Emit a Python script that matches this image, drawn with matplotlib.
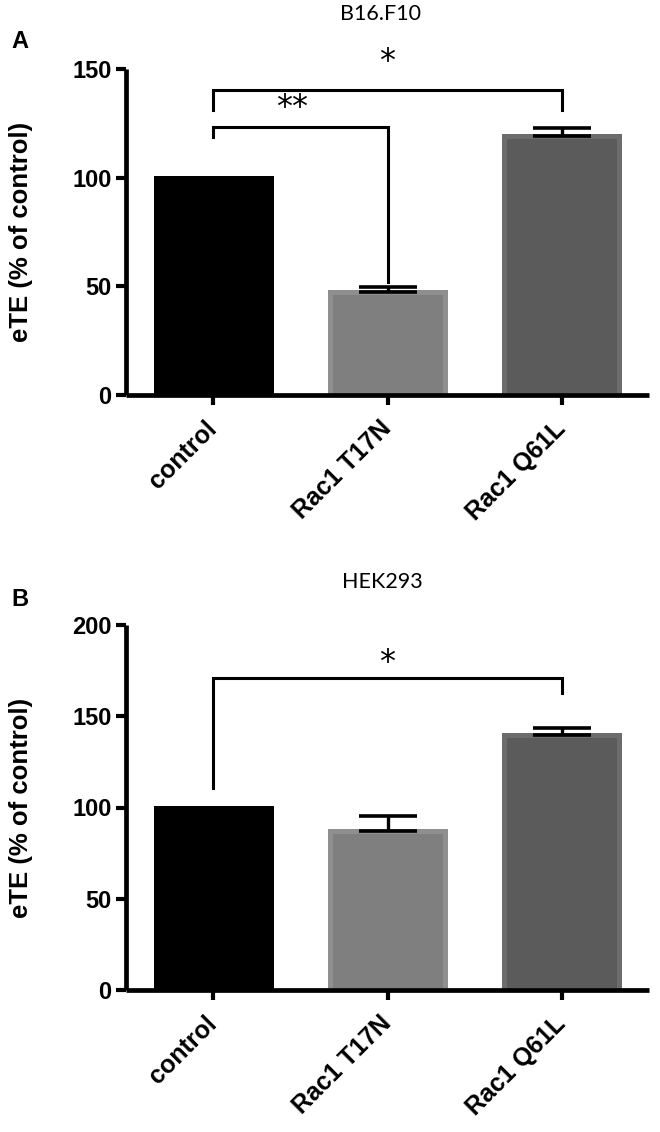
import matplotlib
matplotlib.use("Agg")
import matplotlib.pyplot as plt
import numpy as np

# ---------------- data ----------------
categories = ["control", "Rac1 T17N", "Rac1 Q61L"]

titles = ["B16.F10", "HEK293"]
panel_letters = ["A", "B"]
ylabel = "eTE (% of control)"

values_a = [100, 47.5, 119]
errors_a = [0, 2.3, 3.8]
yticks_a = [0, 50, 100, 150]

values_b = [100, 87, 140]
errors_b = [0, 8.5, 3.5]
yticks_b = [0, 50, 100, 150, 200]

# significance brackets: (left idx, right idx, bar height, left drop, right drop, label, label y, label x)
brackets_a = [
    (0, 1, 123.5, 118.5, 52.0, "**", 132.5, 0.45),
    (0, 2, 140.5, 131.0, 131.0, "*", 153.5, 1.0),
]
brackets_b = [
    (0, 2, 171.0, 110.5, 162.5, "*", 179.5, 1.0),
]

face_colors = ["#000000", "#7f7f7f", "#5b5b5b"]
edge_colors = ["#000000", "#8f8f8f", "#6c6c6c"]

# ---------------- figure ----------------
W, H = 660, 1132
fig = plt.figure(figsize=(W / 100, H / 100), dpi=100)

bold_font = "Liberation Sans"
title_font = "Lato"

def px_axes(left, right, top, bottom):
    return fig.add_axes([left / W, 1 - bottom / H, (right - left) / W, (bottom - top) / H])

ax_a = px_axes(126, 649, 69, 395)
ax_b = px_axes(126, 649, 625, 990)

def draw_panel(ax, values, errors, yticks, brackets):
    x = np.arange(len(categories))
    ax.bar(x, values, width=0.66, color=face_colors, edgecolor=edge_colors,
           linewidth=3.6, zorder=2)
    ax.errorbar(x, values, yerr=[np.zeros(len(errors)), errors], fmt="none",
                ecolor="black", elinewidth=2.4, capsize=21, capthick=2.6, zorder=3)
    ax.set_xlim(-0.5, 2.5)
    ax.set_ylim(0, max(yticks))
    ax.set_yticks(yticks)
    ax.set_xticks(x)
    ax.set_xticklabels(categories, rotation=45, ha="right", va="center",
                       rotation_mode="anchor", fontsize=18, fontweight="bold",
                       family=bold_font)
    for lab in ax.get_yticklabels():
        lab.set_fontsize(17)
        lab.set_fontweight("bold")
        lab.set_family(bold_font)
    for s in ["top", "right"]:
        ax.spines[s].set_visible(False)
    for s in ["left", "bottom"]:
        ax.spines[s].set_linewidth(3.4)
        ax.spines[s].set_zorder(4)
        ax.spines[s].set_capstyle("butt")
    ax.tick_params(axis="both", direction="out", length=7.5, width=3.0, color="black")
    ax.tick_params(axis="y", pad=3)
    ax.tick_params(axis="x", pad=14)
    ax.set_ylabel(ylabel, fontsize=18.5, fontweight="bold", family=bold_font, va="center")
    ax.yaxis.set_label_coords(-0.200, 0.5)
    for (i, j, hy, ldrop, rdrop, lab, ly, lx) in brackets:
        ax.plot([x[i], x[i], x[j], x[j]], [ldrop, hy, hy, rdrop], color="black",
                lw=2.2, solid_joinstyle="miter", clip_on=False, zorder=5)
        ax.text(lx, ly, lab, ha="center", va="center", fontsize=23,
                family="DejaVu Sans", clip_on=False)

draw_panel(ax_a, values_a, errors_a, yticks_a, brackets_a)
draw_panel(ax_b, values_b, errors_b, yticks_b, brackets_b)

fig.text(381 / W, 1 - 14 / H, titles[0], ha="center", va="center", fontsize=15.5, family=title_font)
fig.text(382 / W, 1 - 582 / H, titles[1], ha="center", va="center", fontsize=15.5, family=title_font)
fig.text(20 / W, 1 - 42 / H, panel_letters[0], ha="center", va="center", fontsize=17,
         fontweight="bold", family=bold_font)
fig.text(20 / W, 1 - 600 / H, panel_letters[1], ha="center", va="center", fontsize=17,
         fontweight="bold", family=bold_font)

fig.savefig("out.png", dpi=100)
